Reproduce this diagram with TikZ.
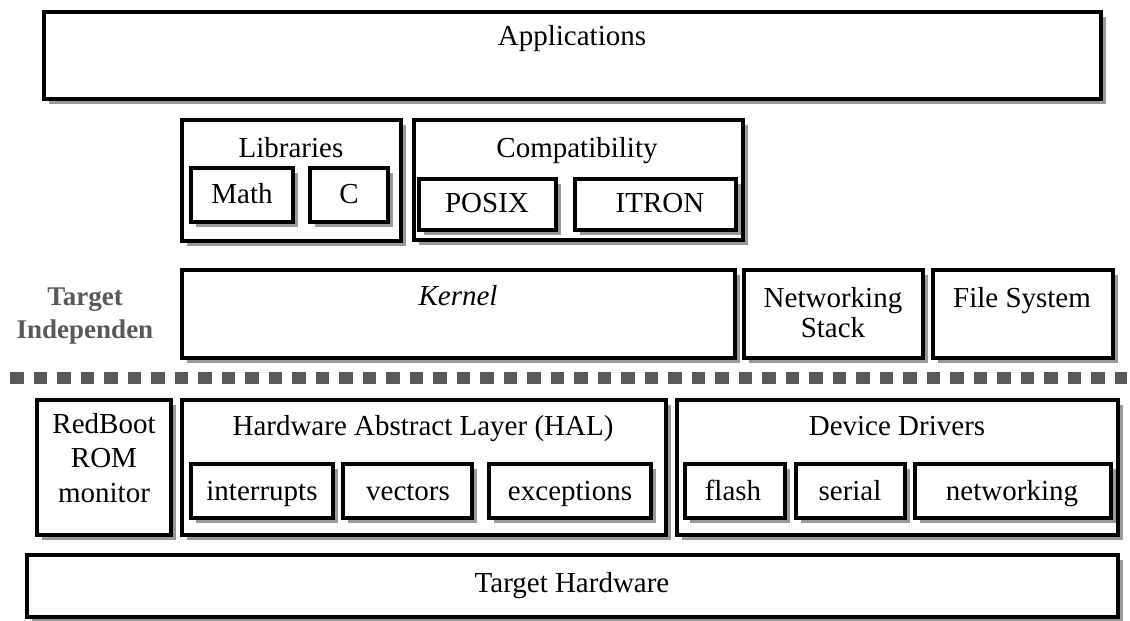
\documentclass[tikz,border=0pt]{standalone}
\usepackage{fontspec}
\setmainfont{Liberation Serif}
\usetikzlibrary{shadows}
\begin{document}
\begin{tikzpicture}[x=1pt,y=-1pt,
  box/.style={draw=black, line width=4.5pt, fill=white, inner sep=0pt,
    drop shadow={shadow xshift=4.5pt, shadow yshift=-4.5pt, fill=black!40, opacity=1}},
  txt/.style={inner sep=0pt, anchor=base, align=center,
    font=\fontsize{29}{32}\selectfont},
  sidetxt/.style={inner sep=0pt, anchor=base, align=center, text=black!65, font=\fontsize{27}{33}\selectfont\bfseries},
  sep/.style={line width=12pt, draw=black!65, dash pattern=on 13.5pt off 10pt}
]
\useasboundingbox (0,0) rectangle (1130,621);
\fill[white] (0,0) rectangle (1130,621);

% Applications
\node[box, minimum width=1057pt, minimum height=87pt] (app) at (572.5,55.5) {};
\node[txt] (appT) at (572,45) {Applications};

% Libraries
\node[box, minimum width=219pt, minimum height=121pt] (lib) at (291.5,180.5) {};
\node[txt] (libT) at (291,157) {Libraries};
\node[box, minimum width=102pt, minimum height=54pt] (math) at (242,195) {};
\node[txt] (mathT) at (242,203) {Math};
\node[box, minimum width=78pt, minimum height=54pt] (c) at (349,195) {};
\node[txt] (cT) at (349,203) {C};

% Compatibility
\node[box, minimum width=329pt, minimum height=120pt] (comp) at (578.5,180) {};
\node[txt] (compT) at (577,157) {Compatibility};
\node[box, minimum width=137pt, minimum height=51pt] (posix) at (487.5,204.5) {};
\node[txt] (posixT) at (487,212) {POSIX};
\node[box, minimum width=161pt, minimum height=51pt] (itron) at (655.5,204.5) {};
\node[txt] (itronT) at (660,212) {ITRON};

% Target independent row
\node[sidetxt] (tiT) at (85,338) {Target\\Independen};
\node[box, minimum width=553pt, minimum height=88pt] (kern) at (458.5,314) {};
\node[txt] (kernT) at (458,305) {\itshape Kernel};
\node[box, minimum width=179pt, minimum height=88pt] (net) at (833.5,314) {};
\node[txt, font=\fontsize{29}{30}\selectfont] (netT) at (833,337) {Networking\\Stack};
\node[box, minimum width=180pt, minimum height=88pt] (fs) at (1023,314) {};
\node[txt] (fsT) at (1022,307) {File System};

% separator
\coordinate (sepL) at (10,378);
\coordinate (sepR) at (1127,378);
\draw[sep] (sepL) -- (sepR);

% RedBoot
\node[box, minimum width=134pt, minimum height=135pt] (rb) at (104,467.5) {};
\node[txt, font=\fontsize{29}{34.5}\selectfont] (rbT) at (104,502) {RedBoot\\ROM\\monitor};

% HAL
\node[box, minimum width=484pt, minimum height=135pt] (hal) at (424,467.5) {};
\node[txt] (halT) at (423,435) {Hardware Abstract Layer (HAL)};
\node[box, minimum width=142pt, minimum height=54pt] (intr) at (262,491) {};
\node[txt] (intrT) at (262,500) {interrupts};
\node[box, minimum width=129pt, minimum height=54pt] (vec) at (407.5,491) {};
\node[txt] (vecT) at (408,500) {vectors};
\node[box, minimum width=162pt, minimum height=54pt] (exc) at (570,491) {};
\node[txt] (excT) at (570,500) {exceptions};

% Device Drivers
\node[box, minimum width=441pt, minimum height=135pt] (dd) at (897.5,467.5) {};
\node[txt] (ddT) at (897,435) {Device Drivers};
\node[box, minimum width=100pt, minimum height=54pt] (flash) at (735,491) {};
\node[txt] (flashT) at (733,500) {flash};
\node[box, minimum width=109pt, minimum height=54pt] (serial) at (850.5,491) {};
\node[txt] (serialT) at (850,500) {serial};
\node[box, minimum width=196pt, minimum height=54pt] (netw) at (1013,491) {};
\node[txt] (netwT) at (1012,500) {networking};

% Target Hardware
\node[box, minimum width=1091pt, minimum height=62pt] (th) at (572.5,586) {};
\node[txt] (thT) at (572,592) {Target Hardware};
\end{tikzpicture}
\end{document}
